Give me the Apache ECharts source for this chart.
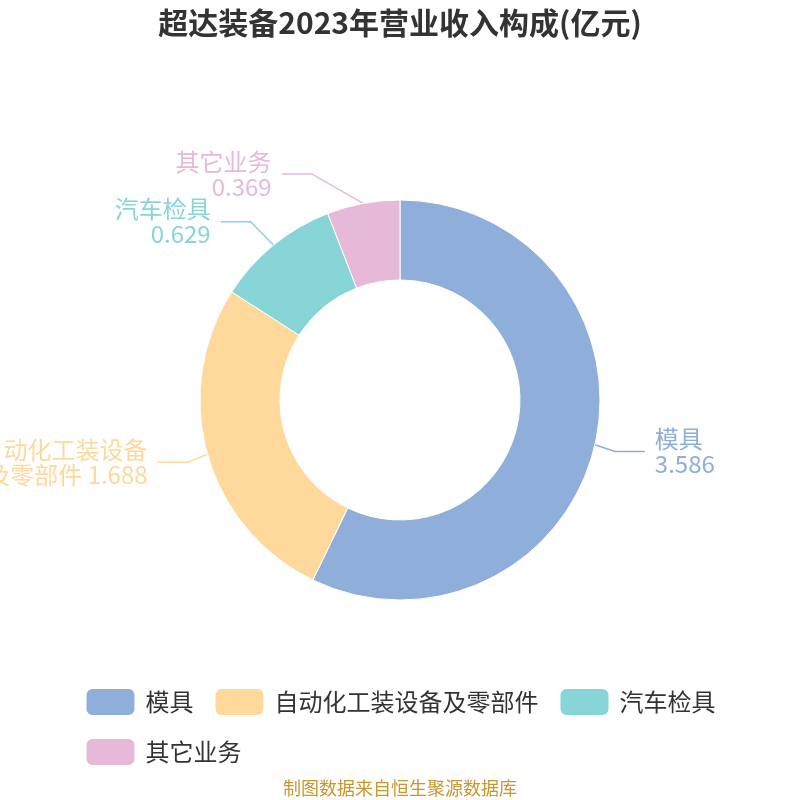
<!DOCTYPE html>
<html>
<head>
<meta charset="utf-8">
<script src="https://cdn.jsdelivr.net/npm/echarts@6/dist/echarts.min.js"></script>
<style>html,body{margin:0;padding:0;background:#fff}#c{width:800px;height:800px}</style>
</head>
<body>
<div id="c"></div>
<script>
const titleText = '超达装备2023年营业收入构成(亿元)';
const categories = ['模具', '自动化工装设备及零部件', '汽车检具', '其它业务'];
const values = [3.586, 1.688, 0.629, 0.369];
const colors = ['#8FAEDA', '#FED99B', '#87D5D7', '#E6B9D8'];
const sourceText = '制图数据来自恒生聚源数据库';

const LEN = 30, LEN2 = 30, GAP = 10;
const chart = echarts.init(document.getElementById('c'));
const font = '"Microsoft YaHei","Noto Sans CJK SC",sans-serif';

// Classic (v4-style) pie label placement: text anchors on a circle of radius r+len+len2
function classicLabelLayout(params) {
  const pts = params.labelLinePoints;
  if (!pts) return {};
  const w = chart.getWidth(), h = chart.getHeight();
  const cx = w / 2, cy = h / 2;
  const r = Math.min(w, h) / 2 * 0.5;
  const p0 = pts[0];
  const ux = (p0[0] - cx) / r, uy = (p0[1] - cy) / r;
  const dir = ux < 0 ? -1 : 1;
  const y = cy + uy * (r + LEN);
  const dY = Math.abs(y - cy);
  const R = r + LEN + LEN2;
  const dX = dY < r + LEN ? Math.sqrt(R * R - dY * dY) : Math.abs(ux * (r + LEN) + dir * LEN2);
  const tx = cx + dir * dX;
  const endX = tx - dir * GAP;
  const elbowX = endX - dir * LEN2;
  return {
    x: tx, y: y,
    align: dir < 0 ? 'right' : 'left',
    verticalAlign: 'middle',
    labelLinePoints: [[p0[0], p0[1]], [elbowX, y], [endX, y]]
  };
}

chart.setOption({
  animation: false,
  color: colors,
  title: {
    text: titleText,
    left: 'center',
    top: 3,
    textStyle: { fontSize: 30, fontWeight: 'bold', color: '#333', fontFamily: font }
  },
  graphic: [{
    type: 'text',
    left: 'center',
    top: 779,
    style: { text: sourceText, fill: '#C8962E', font: '18px ' + font }
  }],
  legend: {
    bottom: 28,
    left: 'center',
    icon: 'roundRect',
    itemWidth: 50,
    itemHeight: 28,
    itemGap: 20,
    textStyle: { fontSize: 24, color: '#333', fontFamily: font, padding: [0, 0, 0, 5] },
    data: categories
  },
  series: [{
    type: 'pie',
    center: ['50%', '50%'],
    radius: ['30%', '50%'],
    startAngle: 90,
    clockwise: true,
    avoidLabelOverlap: false,
    label: {
      fontSize: 24,
      lineHeight: 25,
      fontFamily: font,
      overflow: 'none',
      distanceToLabelLine: GAP,
      formatter: function (p) {
        const n = p.name;
        if (n.length > 7) return n.slice(0, 7) + '\n' + n.slice(7) + ' ' + p.value;
        return n + '\n' + p.value;
      }
    },
    labelLine: { length: LEN, length2: LEN2, lineStyle: { width: 1.5 } },
    labelLayout: classicLabelLayout,
    itemStyle: { borderColor: '#fff', borderWidth: 1 },
    data: categories.map((c, i) => ({ name: c, value: values[i], label: { color: colors[i] } }))
  }]
});
</script>
</body>
</html>
